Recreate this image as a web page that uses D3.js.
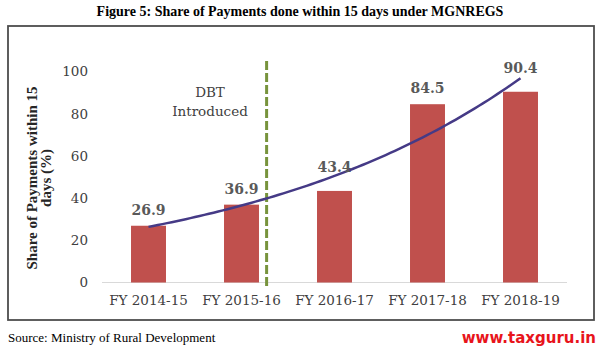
<!DOCTYPE html>
<html>
<head>
<meta charset="utf-8">
<script src="https://cdn.jsdelivr.net/npm/d3@7"></script>
<style>
  body { margin: 0; background: #fff; }
  svg { display: block; }
</style>
</head>
<body>
<div id="chart"></div>
<script>
// data
var years = ["FY 2014-15", "FY 2015-16", "FY 2016-17", "FY 2017-18", "FY 2018-19"];
var share = [26.9, 36.9, 43.4, 84.5, 90.4];
var yTicks = [0, 20, 40, 60, 80, 100];

var W = 600, H = 352;
var plotLeft = 102, plotRight = 567, plotTop = 71.5, plotBottom = 282.5;

var svg = d3.select("#chart").append("svg")
    .attr("width", W)
    .attr("height", H);

// title
svg.append("text")
    .attr("x", 300)
    .attr("y", 16)
    .attr("text-anchor", "middle")
    .style("font-family", "'Liberation Serif', serif")
    .style("font-weight", "bold")
    .style("font-size", "14px")
    .attr("fill", "#000")
    .text("Figure 5: Share of Payments done within 15 days under MGNREGS");

// outer frame
svg.append("rect")
    .attr("x", 8).attr("y", 26)
    .attr("width", 586).attr("height", 294)
    .attr("fill", "none")
    .attr("stroke", "#4d4d4d")
    .attr("stroke-width", 1.8);

var x = d3.scaleBand()
    .domain(years)
    .range([plotLeft, plotRight])
    .paddingInner(0.624)
    .paddingOuter(0.312);

var y = d3.scaleLinear()
    .domain([0, 100])
    .range([plotBottom, plotTop]);

// y tick labels
svg.append("g")
    .attr("transform", "translate(88,0)")
    .call(d3.axisLeft(y).tickValues(yTicks).tickSize(0).tickPadding(0))
    .call(function (g) { g.select(".domain").remove(); })
    .selectAll("text")
    .style("font-family", "'DejaVu Serif', serif")
    .style("font-size", "13.5px")
    .attr("fill", "#404040");

// baseline
svg.append("line")
    .attr("x1", plotLeft).attr("x2", plotRight)
    .attr("y1", y(0)).attr("y2", y(0))
    .attr("stroke", "#d9d9d9")
    .attr("stroke-width", 1.2);

// x labels
svg.append("g")
    .attr("transform", "translate(0," + y(0) + ")")
    .call(d3.axisBottom(x).tickSize(0).tickPadding(13))
    .call(function (g) { g.select(".domain").remove(); })
    .selectAll("text")
    .style("font-family", "'DejaVu Serif', serif")
    .style("font-size", "13.5px")
    .attr("fill", "#404040");

// bars
svg.selectAll("rect.bar")
    .data(share)
    .enter().append("rect")
    .attr("class", "bar")
    .attr("x", function (d, i) { return x(years[i]); })
    .attr("y", function (d) { return y(d); })
    .attr("width", x.bandwidth())
    .attr("height", function (d) { return y(0) - y(d); })
    .attr("fill", "#c0504d");

// DBT marker
var dbtX = x(years[1]) + x.bandwidth() / 2 + x.step() * 0.27;
svg.append("line")
    .attr("x1", dbtX).attr("x2", dbtX)
    .attr("y1", 61).attr("y2", 288)
    .attr("stroke", "#77933c")
    .attr("stroke-width", 3)
    .attr("stroke-dasharray", "9,3");

svg.append("text")
    .attr("x", 210)
    .attr("text-anchor", "middle")
    .style("font-family", "'DejaVu Serif', serif")
    .style("font-size", "13.5px")
    .attr("fill", "#404040")
    .selectAll("tspan")
    .data(["DBT", "Introduced"])
    .enter().append("tspan")
    .attr("x", 210)
    .attr("y", function (d, i) { return 97 + i * 19; })
    .text(function (d) { return d; });

// exponential trendline (least squares on ln values)
var n = share.length;
var xs = d3.range(1, n + 1);
var lns = share.map(function (v) { return Math.log(v); });
var mx = d3.mean(xs), ml = d3.mean(lns);
var b = d3.sum(xs, function (v, i) { return (v - mx) * (lns[i] - ml); }) /
        d3.sum(xs, function (v) { return (v - mx) * (v - mx); });
var a = ml - b * mx;
var tx = d3.scaleLinear()
    .domain([1, n])
    .range([x(years[0]) + x.bandwidth() / 2, x(years[n - 1]) + x.bandwidth() / 2]);
var trend = d3.range(1, n + 0.001, 0.05).map(function (t) { return [t, Math.exp(a + b * t)]; });

svg.append("path")
    .datum(trend)
    .attr("fill", "none")
    .attr("stroke", "#453a86")
    .attr("stroke-width", 2.5)
    .attr("d", d3.line()
        .x(function (d) { return tx(d[0]); })
        .y(function (d) { return y(d[1]); }));

// value labels
var lift = [10.5, 10.5, 19, 11, 19];
svg.selectAll("text.val")
    .data(share)
    .enter().append("text")
    .attr("class", "val")
    .attr("x", function (d, i) { return x(years[i]) + x.bandwidth() / 2; })
    .attr("y", function (d, i) { return y(d) - lift[i]; })
    .attr("text-anchor", "middle")
    .style("font-family", "'DejaVu Serif', serif")
    .style("font-weight", "bold")
    .style("font-size", "14px")
    .attr("fill", "#595959")
    .text(function (d) { return d3.format(".1f")(d); });

// y title
svg.append("text")
    .attr("transform", "translate(32,178) rotate(-90)")
    .attr("text-anchor", "middle")
    .style("font-family", "'Liberation Serif', serif")
    .style("font-weight", "bold")
    .style("font-size", "15px")
    .attr("fill", "#262626")
    .selectAll("tspan")
    .data(["Share of Payments within 15", "days (%)"])
    .enter().append("tspan")
    .attr("x", 0)
    .attr("dy", function (d, i) { return i === 0 ? "0.35em" : "13.5px"; })
    .text(function (d) { return d; });

// source + watermark
svg.append("text")
    .attr("x", 8)
    .attr("y", 342)
    .style("font-family", "'Liberation Serif', serif")
    .style("font-size", "13px")
    .attr("fill", "#000")
    .text("Source: Ministry of Rural Development");

svg.append("text")
    .attr("x", 596)
    .attr("y", 343)
    .attr("text-anchor", "end")
    .style("font-family", "'DejaVu Sans', sans-serif")
    .style("font-weight", "bold")
    .style("font-size", "15px")
    .attr("fill", "#e8141b")
    .text("www.taxguru.in");
</script>
</body>
</html>
